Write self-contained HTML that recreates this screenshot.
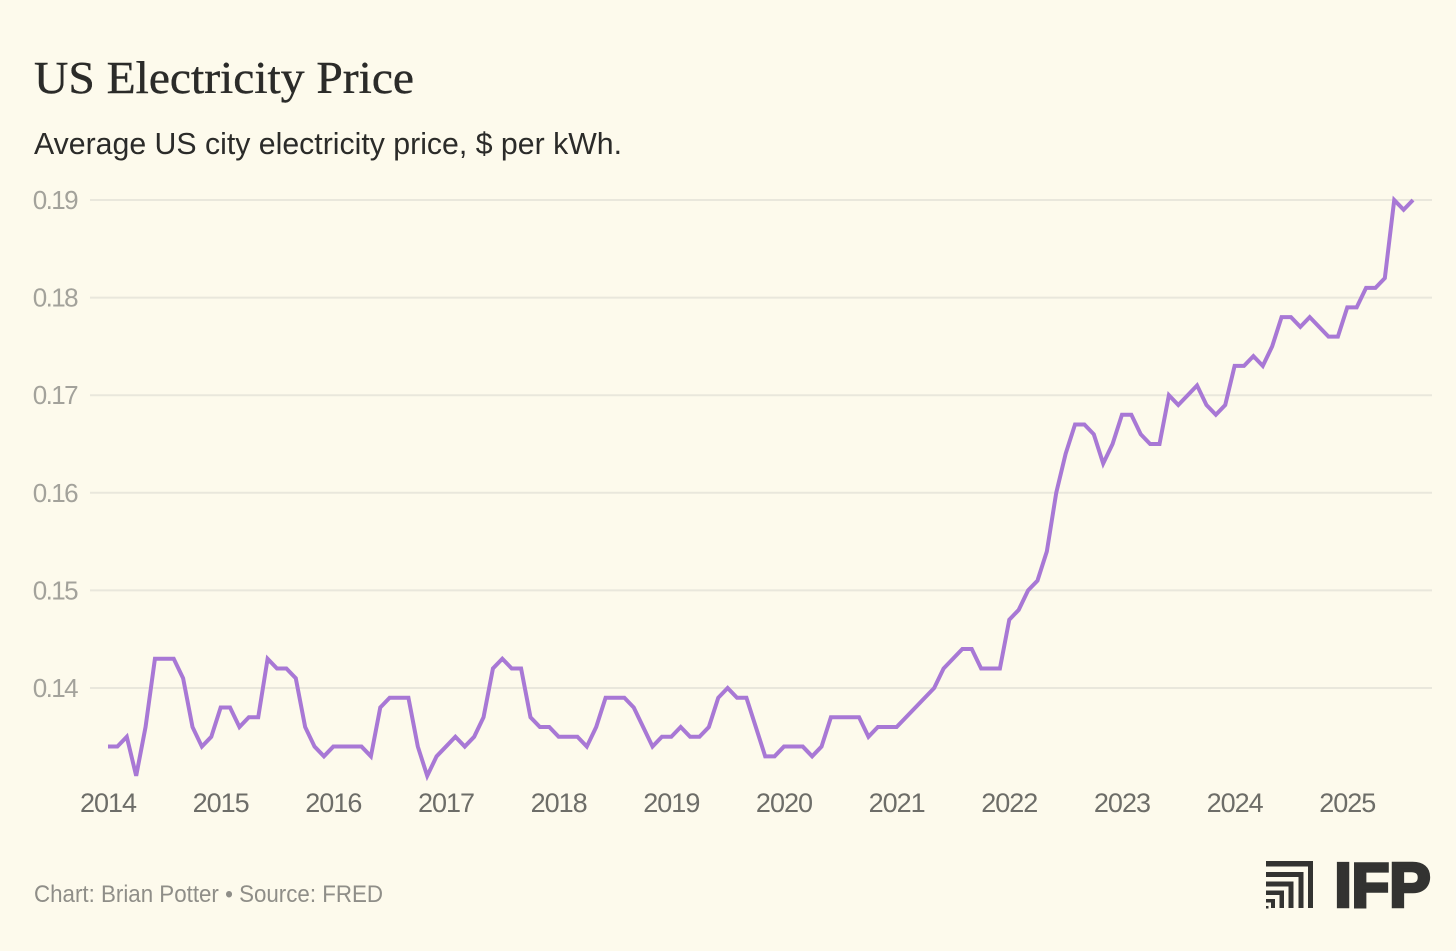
<!DOCTYPE html>
<html lang="en">
<head>
<meta charset="utf-8">
<title>US Electricity Price</title>
<style>
html,body{margin:0;padding:0;background:#fdfaec;}
svg{display:block;}
text{font-family:"Liberation Sans",sans-serif;}
</style>
</head>
<body>
<svg id="chart" xmlns="http://www.w3.org/2000/svg" width="1456" height="951" viewBox="0 0 1456 951">
  <rect x="0" y="0" width="1456" height="951" fill="#fdfaec"/>
  <text x="34" y="93" font-size="45" fill="#2b2b29" stroke="#2b2b29" stroke-width="0.4" textLength="380" lengthAdjust="spacingAndGlyphs" style="font-family:'Liberation Serif',serif">US Electricity Price</text>
  <text x="34" y="154" font-size="31" fill="#2b2b29" textLength="588" lengthAdjust="spacingAndGlyphs">Average US city electricity price, $ per kWh.</text>
  <g id="grid"></g>
  <g id="y-axis"></g>
  <g id="x-axis"></g>
  <path id="line" fill="none" stroke="#a878d5" stroke-width="4" stroke-linejoin="miter" stroke-linecap="butt"/>
  <text x="34" y="902" font-size="24.5" fill="#8f8e88" textLength="349" lengthAdjust="spacingAndGlyphs">Chart: Brian Potter • Source: FRED</text>
  <g>
    <g fill="#333331">
      <path d="M1266 861H1313V908H1308V866.5H1266Z"/>
      <path d="M1266 872H1303.5V908H1298.5V877H1266Z"/>
      <path d="M1266 881.5H1293.5V908H1288.5V886.5H1266Z"/>
      <path d="M1266 890.5H1284V908H1279.5V895H1266Z"/>
      <path d="M1266 899H1275V908H1271V902.5H1266Z"/>
      <rect x="1266" y="906" width="2.5" height="2.5"/>
    </g>
    <text x="1334.5" y="906.5" font-size="62" font-weight="700" fill="#333331" stroke="#333331" stroke-width="3.5" textLength="96" lengthAdjust="spacingAndGlyphs">IFP</text>
  </g>
</svg>
<script>
const startYear = 2014;
const yTickValues = [0.14, 0.15, 0.16, 0.17, 0.18, 0.19];
const yTickLabels = ["0.14", "0.15", "0.16", "0.17", "0.18", "0.19"];
const xTickLabels = ["2014", "2015", "2016", "2017", "2018", "2019", "2020", "2021", "2022", "2023", "2024", "2025"];
const prices2014 = [0.134, 0.134, 0.135, 0.131, 0.136, 0.143, 0.143, 0.143, 0.141, 0.136, 0.134, 0.135];
const prices2015 = [0.138, 0.138, 0.136, 0.137, 0.137, 0.143, 0.142, 0.142, 0.141, 0.136, 0.134, 0.133];
const prices2016 = [0.134, 0.134, 0.134, 0.134, 0.133, 0.138, 0.139, 0.139, 0.139, 0.134, 0.131, 0.133];
const prices2017 = [0.134, 0.135, 0.134, 0.135, 0.137, 0.142, 0.143, 0.142, 0.142, 0.137, 0.136, 0.136];
const prices2018 = [0.135, 0.135, 0.135, 0.134, 0.136, 0.139, 0.139, 0.139, 0.138, 0.136, 0.134, 0.135];
const prices2019 = [0.135, 0.136, 0.135, 0.135, 0.136, 0.139, 0.140, 0.139, 0.139, 0.136, 0.133, 0.133];
const prices2020 = [0.134, 0.134, 0.134, 0.133, 0.134, 0.137, 0.137, 0.137, 0.137, 0.135, 0.136, 0.136];
const prices2021 = [0.136, 0.137, 0.138, 0.139, 0.140, 0.142, 0.143, 0.144, 0.144, 0.142, 0.142, 0.142];
const prices2022 = [0.147, 0.148, 0.150, 0.151, 0.154, 0.160, 0.164, 0.167, 0.167, 0.166, 0.163, 0.165];
const prices2023 = [0.168, 0.168, 0.166, 0.165, 0.165, 0.170, 0.169, 0.170, 0.171, 0.169, 0.168, 0.169];
const prices2024 = [0.173, 0.173, 0.174, 0.173, 0.175, 0.178, 0.178, 0.177, 0.178, 0.177, 0.176, 0.176];
const prices2025 = [0.179, 0.179, 0.181, 0.181, 0.182, 0.190, 0.189, 0.190];

const prices = [].concat(prices2014, prices2015, prices2016, prices2017, prices2018, prices2019, prices2020, prices2021, prices2022, prices2023, prices2024, prices2025);

const SVG_NS = "http://www.w3.org/2000/svg";

function xScale(monthIndex) {
  return 108 + monthIndex * (1305 / 139);
}
function yScale(value) {
  return 688 - (value - 0.14) * (488 / 0.05);
}

const gridGroup = document.getElementById("grid");
const yAxisGroup = document.getElementById("y-axis");
const xAxisGroup = document.getElementById("x-axis");

yTickValues.forEach(function (value, i) {
  const gridLine = document.createElementNS(SVG_NS, "line");
  
  
  gridLine.setAttribute("x1", 90);
  gridLine.setAttribute("x2", 1432);
  gridLine.setAttribute("y1", yScale(value));
  gridLine.setAttribute("y2", yScale(value));
  gridLine.setAttribute("stroke", "#e9e7dc");
  gridLine.setAttribute("stroke-width", 2);
  gridGroup.appendChild(gridLine);

  const yLabel = document.createElementNS(SVG_NS, "text");
  
  
  yLabel.setAttribute("x", 77);
  yLabel.setAttribute("y", yScale(value) + 9);
  yLabel.setAttribute("text-anchor", "end");
  yLabel.setAttribute("font-size", 26);
  yLabel.setAttribute("letter-spacing", "-1.6");
  yLabel.setAttribute("fill", "#a3a29b");
  yLabel.textContent = yTickLabels[i];
  yAxisGroup.appendChild(yLabel);
});

xTickLabels.forEach(function (label) {
  const xLabel = document.createElementNS(SVG_NS, "text");
  
  
  xLabel.setAttribute("x", xScale((Number(label) - startYear) * 12));
  xLabel.setAttribute("y", 812);
  xLabel.setAttribute("text-anchor", "middle");
  xLabel.setAttribute("font-size", 27);
  xLabel.setAttribute("letter-spacing", "-1");
  xLabel.setAttribute("fill", "#6d6d68");
  xLabel.textContent = label;
  xAxisGroup.appendChild(xLabel);
});

document.getElementById("line").setAttribute("d", prices.map(function (value, i) {
  return (i === 0 ? "M" : "L") + xScale(i).toFixed(2) + " " + yScale(value).toFixed(2);
}).join(" "));
</script>
</body>
</html>
